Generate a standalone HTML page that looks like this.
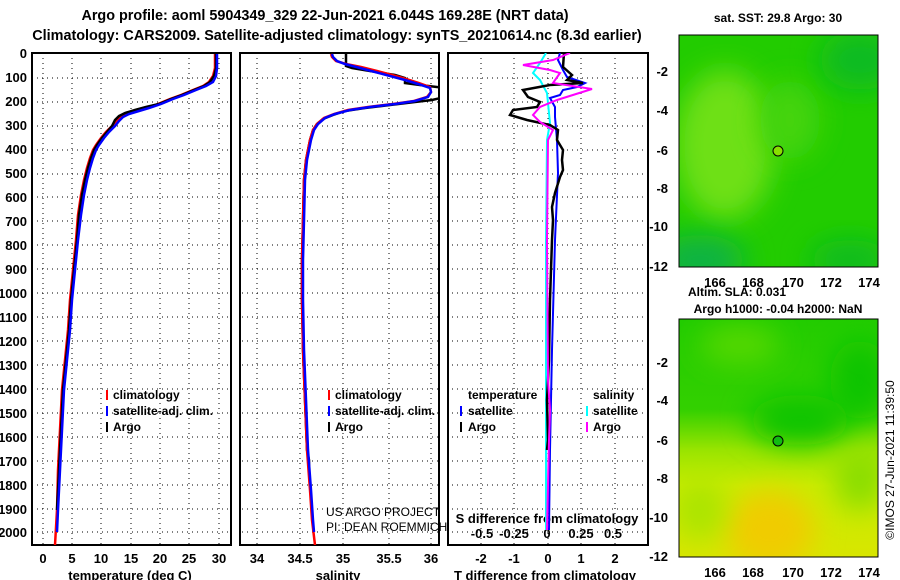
<!DOCTYPE html>
<html><head><meta charset="utf-8"><style>
html,body{margin:0;padding:0;background:#fff;}
svg{display:block;}
text{font-family:"Liberation Sans",sans-serif;font-weight:bold;fill:#000;}
</style></head><body>
<svg width="900" height="580" viewBox="0 0 900 580" xmlns="http://www.w3.org/2000/svg">
<defs>
<clipPath id="c1"><rect x="32" y="53" width="199" height="492"/></clipPath>
<clipPath id="c2"><rect x="240" y="53" width="199" height="492"/></clipPath>
<clipPath id="c3"><rect x="448" y="53" width="200" height="492"/></clipPath>
<clipPath id="m1"><rect x="679" y="35" width="199" height="232"/></clipPath>
<clipPath id="m2"><rect x="679" y="319" width="199" height="238"/></clipPath>
<filter id="bl" x="-50%" y="-50%" width="200%" height="200%"><feGaussianBlur stdDeviation="14"/></filter>
<linearGradient id="g2" x1="0" y1="0" x2="0" y2="1">
<stop offset="0" stop-color="#22cc00"/>
<stop offset="0.38" stop-color="#33d000"/>
<stop offset="0.55" stop-color="#99e400"/>
<stop offset="0.7" stop-color="#c8ec00"/>
<stop offset="1" stop-color="#d8e600"/>
</linearGradient>
</defs>

<text x="325" y="20" font-size="14.4" text-anchor="middle">Argo profile: aoml 5904349_329 22-Jun-2021 6.044S 169.28E (NRT data)</text>
<text x="337" y="40" font-size="14.4" text-anchor="middle">Climatology: CARS2009. Satellite-adjusted climatology: synTS_20210614.nc (8.3d earlier)</text>

<g stroke="#000" stroke-width="1" stroke-dasharray="1,4" fill="none">
<path d="M43 53V545M72 53V545M101 53V545M131 53V545M160 53V545M189 53V545M219 53V545"/>
<path d="M257 53V545M300 53V545M343 53V545M389 53V545M431 53V545"/>
<path d="M481 53V545M514 53V545M548 53V545M581 53V545M615 53V545"/>
<path d="M32 78H648M32 102H648M32 126H648M32 150H648M32 174H648M32 197H648M32 221H648M32 245H648M32 269H648M32 293H648M32 317H648M32 341H648M32 365H648M32 389H648M32 413H648M32 437H648M32 461H648M32 485H648M32 509H648M32 532H648"/>
</g>
<g fill="#fff" stroke="none"><rect x="232" y="53" width="7" height="493"/><rect x="440" y="53" width="7" height="493"/></g>
<g fill="none" stroke="#000" stroke-width="2">
<rect x="32" y="53" width="199" height="492"/>
<rect x="240" y="53" width="199" height="492"/>
<rect x="448" y="53" width="200" height="492"/>
</g>

<g font-size="13" text-anchor="end">
<text x="27" y="58">0</text><text x="27" y="82">100</text><text x="27" y="106">200</text><text x="27" y="130">300</text><text x="27" y="154">400</text><text x="27" y="178">500</text><text x="27" y="202">600</text><text x="27" y="226">700</text><text x="27" y="250">800</text><text x="27" y="274">900</text><text x="27" y="298">1000</text><text x="27" y="322">1100</text><text x="27" y="346">1200</text><text x="27" y="370">1300</text><text x="27" y="394">1400</text><text x="27" y="418">1500</text><text x="27" y="442">1600</text><text x="27" y="466">1700</text><text x="27" y="490">1800</text><text x="27" y="514">1900</text><text x="27" y="537">2000</text>
</g>
<g font-size="13" text-anchor="middle">
<text x="43" y="563">0</text><text x="72" y="563">5</text><text x="101" y="563">10</text><text x="131" y="563">15</text><text x="160" y="563">20</text><text x="189" y="563">25</text><text x="219" y="563">30</text>
<text x="130" y="580">temperature (deg C)</text>
<text x="257" y="563">34</text><text x="300" y="563">34.5</text><text x="343" y="563">35</text><text x="389" y="563">35.5</text><text x="431" y="563">36</text>
<text x="338" y="580">salinity</text>
<text x="481" y="563">-2</text><text x="514" y="563">-1</text><text x="548" y="563">0</text><text x="581" y="563">1</text><text x="615" y="563">2</text>
<text x="545" y="580">T difference from climatology</text>
<text x="547" y="523">S difference from climatology</text>
<text x="482" y="538">-0.5</text><text x="514" y="538">-0.25</text><text x="547" y="538">0</text><text x="581" y="538">0.25</text><text x="613" y="538">0.5</text>
</g>

<g clip-path="url(#c1)" fill="none" stroke-width="2.5">
<polyline stroke="#f00" points="215,54 215,68 213,76 209,82 203,86 193,90 181,95 170,99 158,104 146,108 136,111 126,114 120,117 116,121 112,126 106,132 101,138 96,145 93,150 90,158 87,168 84,180 81,195 78,215 76,240 73,270 70,300 68,330 65,360 62,390 60,430 58,470 57,510 55,545"/>
<polyline stroke="#000" points="216,54 216,68 214,76 210,82 204,86 194,90 182,95 171,99 159,104 146,107 135,110 125,113 119,116 115,120 112,126 107,132 102,138 97,145 94,150 91,158 88,168 85,180 82,195 79,215 77,240 74,270 71,300 69,330 66,360 63,390 61,430 59,470 57,510"/>
<polyline stroke="#00f" points="217,54 217,68 216,76 213,82 206,86 196,90 184,95 173,99 161,104 149,108 139,111 129,114 123,117 119,121 115,126 109,132 104,138 99,145 96,150 93,158 90,168 87,180 84,195 81,215 78,240 75,270 72,300 70,330 67,360 64,390 62,430 60,470 58,510 57,532"/>
</g>
<g clip-path="url(#c2)" fill="none" stroke-width="2.5">
<polyline stroke="#000" points="346,54 346,66 352,68 370,71 395,75 405,78 405,83 420,85 445,88"/>
<polyline stroke="#000" points="445,97 432,100 415,102 390,105 365,108 345,111 333,115 323,119 317,124 313,130 310,140 308,150 306,160 304,180 303,220 302,260 302,300 303,350 305,400 307,450 309,460 309,470"/>
<polyline stroke="#f00" points="331,54 332,57 336,61 346,64 361,67 377,71 392,75 406,79 419,83 430,87 431,92 427,97 414,101 393,104 368,107 348,110 334,114 324,118 317,124 313,130 310,140 308,150 306,160 304,180 303,220 302,260 302,300 303,350 305,400 307,450 310,490 312,520 315,545"/>
<polyline stroke="#00f" points="332,54 333,57 337,61 345,64 360,68 375,72 390,76 405,80 418,84 430,88 431,92 428,97 415,101 395,104 370,107 350,110 335,114 325,118 318,124 314,130 311,140 309,150 307,160 305,180 304,220 303,260 303,300 304,350 306,400 308,450 311,490 313,520 314,532"/>
</g>
<g clip-path="url(#c3)" fill="none" stroke-width="2">
<polyline stroke="#0ff" points="546,53 540,63 533,73 540,80 547,93 550,123 547,140 546,240 546,530"/>
<polyline stroke="#00f" points="560,53 558,60 563,70 567,77 585,83 577,87 563,90 560,95 550,98 555,107 555,117 557,140 558,173 555,240 552,350 550,450 549,530"/>
<polyline stroke="#000" stroke-width="2.5" points="564,53 563,67 572,75 567,80 583,83 550,85 523,90 528,97 540,102 537,107 513,110 510,115 527,120 550,125 558,130 557,140 563,150 562,160 563,170 560,177 555,193 552,207 553,220 552,240 550,300 549,360 547,400 548,440 547,450"/>
<polyline stroke="#f0f" points="570,53 553,60 523,65 550,70 560,73 553,83 592,89 557,100 540,107 533,115 540,122 553,130 548,140 547,240 548,380 550,410 549,440 547,530"/>
</g>

<g font-size="12">
<rect x="106" y="390" width="2" height="10" fill="#f00"/><text x="113" y="399">climatology</text>
<rect x="106" y="406" width="2" height="10" fill="#00f"/><text x="113" y="415">satellite-adj. clim.</text>
<rect x="106" y="422" width="2" height="10" fill="#000"/><text x="113" y="431">Argo</text>
<rect x="328" y="390" width="2" height="10" fill="#f00"/><text x="335" y="399">climatology</text>
<rect x="328" y="406" width="2" height="10" fill="#00f"/><text x="335" y="415">satellite-adj. clim.</text>
<rect x="328" y="422" width="2" height="10" fill="#000"/><text x="335" y="431">Argo</text>
<text x="468" y="399">temperature</text><text x="593" y="399">salinity</text>
<rect x="460" y="406" width="2" height="10" fill="#00f"/><text x="468" y="415">satellite</text>
<rect x="460" y="422" width="2" height="10" fill="#000"/><text x="468" y="431">Argo</text>
<rect x="586" y="406" width="2" height="10" fill="#0ff"/><text x="593" y="415">satellite</text>
<rect x="586" y="422" width="2" height="10" fill="#f0f"/><text x="593" y="431">Argo</text>
</g>
<text x="326" y="516" font-size="12" style="font-weight:normal">US ARGO PROJECT</text>
<text x="326" y="531" font-size="12" style="font-weight:normal">PI: DEAN ROEMMICH</text>

<text x="778" y="22" font-size="12" text-anchor="middle">sat. SST: 29.8 Argo: 30</text>
<g clip-path="url(#m1)">
<rect x="679" y="35" width="199" height="232" fill="#22cc00"/>
<ellipse cx="725" cy="145" rx="50" ry="75" fill="#6ee018" filter="url(#bl)"/>
<ellipse cx="790" cy="120" rx="30" ry="40" fill="#44d408" filter="url(#bl)"/>
<ellipse cx="700" cy="260" rx="45" ry="25" fill="#11b244" filter="url(#bl)"/>
<ellipse cx="860" cy="60" rx="40" ry="30" fill="#11bb22" filter="url(#bl)"/>
<ellipse cx="850" cy="260" rx="40" ry="20" fill="#11bb22" filter="url(#bl)"/>
</g>
<circle cx="778" cy="151" r="5" fill="#88e000" stroke="#000" stroke-width="1"/>
<rect x="679" y="35" width="199" height="232" fill="none" stroke="#000" stroke-width="1"/>
<g font-size="13">
<text x="668" y="76" text-anchor="end">-2</text><text x="668" y="115" text-anchor="end">-4</text><text x="668" y="155" text-anchor="end">-6</text><text x="668" y="193" text-anchor="end">-8</text><text x="668" y="231" text-anchor="end">-10</text><text x="668" y="271" text-anchor="end">-12</text>
<text x="715" y="287" text-anchor="middle">166</text><text x="753" y="287" text-anchor="middle">168</text><text x="793" y="287" text-anchor="middle">170</text><text x="831" y="287" text-anchor="middle">172</text><text x="869" y="287" text-anchor="middle">174</text>
</g>
<text x="737" y="296" font-size="12" text-anchor="middle">Altim. SLA: 0.031</text>
<text x="778" y="313" font-size="12" text-anchor="middle">Argo h1000: -0.04 h2000: NaN</text>

<g clip-path="url(#m2)">
<rect x="679" y="319" width="199" height="238" fill="url(#g2)"/>
<ellipse cx="740" cy="345" rx="40" ry="20" fill="#55d800" filter="url(#bl)"/>
<ellipse cx="860" cy="380" rx="30" ry="40" fill="#11c400" filter="url(#bl)"/>
<ellipse cx="800" cy="420" rx="50" ry="25" fill="#11c400" filter="url(#bl)"/>
<ellipse cx="860" cy="480" rx="25" ry="30" fill="#88dd00" filter="url(#bl)"/>
<ellipse cx="770" cy="530" rx="45" ry="40" fill="#f0cc00" filter="url(#bl)"/>
<ellipse cx="700" cy="510" rx="25" ry="30" fill="#aae400" filter="url(#bl)"/>
</g>
<circle cx="778" cy="441" r="5" fill="#11bb11" stroke="#000" stroke-width="1"/>
<rect x="679" y="319" width="199" height="238" fill="none" stroke="#000" stroke-width="1"/>
<g font-size="13">
<text x="668" y="367" text-anchor="end">-2</text><text x="668" y="405" text-anchor="end">-4</text><text x="668" y="445" text-anchor="end">-6</text><text x="668" y="483" text-anchor="end">-8</text><text x="668" y="522" text-anchor="end">-10</text><text x="668" y="561" text-anchor="end">-12</text>
<text x="715" y="577" text-anchor="middle">166</text><text x="753" y="577" text-anchor="middle">168</text><text x="793" y="577" text-anchor="middle">170</text><text x="831" y="577" text-anchor="middle">172</text><text x="869" y="577" text-anchor="middle">174</text>
</g>
<text transform="translate(894,460) rotate(-90)" font-size="12" text-anchor="middle" style="font-weight:normal">©IMOS 27-Jun-2021 11:39:50</text>
</svg>
</body></html>
